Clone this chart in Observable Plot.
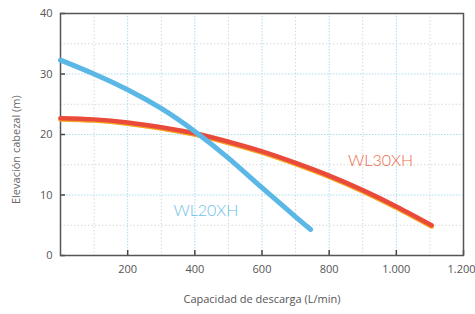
<!DOCTYPE html>
<html><head><meta charset="utf-8">
<script src="https://cdn.jsdelivr.net/npm/d3@7"></script>
<script src="https://cdn.jsdelivr.net/npm/@observablehq/plot@0.6"></script>
<style>body{margin:0;background:#fff;font-family:"Open Sans",sans-serif}</style>
</head><body><div id="chart"></div>
<script>
const wl20X = [0, 100, 200, 300, 400, 500, 600, 700, 745];
const wl20Y = [32.3, 30.0, 27.4, 24.3, 20.5, 16.1, 11.2, 6.4, 4.3];
const wl30X = [0, 100, 200, 300, 400, 500, 600, 700, 800, 900, 1000, 1105];
const wl30Y = [22.7, 22.5, 22.0, 21.2, 20.2, 18.8, 17.2, 15.3, 13.2, 10.8, 8.1, 5.0];
const xTicks = [200, 400, 600, 800, 1000, 1200];
const xTickLabels = ["200", "400", "600", "800", "1.000", "1.200"];
const yTicks = [0, 10, 20, 30, 40];
const xMinor = [100, 300, 500, 700, 900, 1100];
const yMinor = [5, 15, 25, 35];
const seriesNames = ["WL20XH", "WL30XH"];
const seriesColors = ["#5bb8e6", "#ea4a3a"];
const labelColors = ["#6cc0e8", "#ee6a45"];
const labelPos = [[433, 7.4], [953, 15.7]];

const wl20 = wl20X.map((x, i) => ({x, y: wl20Y[i]}));
const wl30 = wl30X.map((x, i) => ({x, y: wl30Y[i]}));
const labels = seriesNames.map((n, i) => ({name: n, x: labelPos[i][0], y: labelPos[i][1], c: labelColors[i]}));
const xLab = xTicks.map((x, i) => ({x, t: xTickLabels[i]}));

const chart = Plot.plot({
  width: 475, height: 314,
  marginLeft: 60, marginRight: 12, marginTop: 13, marginBottom: 59,
  style: {fontFamily: "'Open Sans', sans-serif", fontSize: "11px", color: "#555", background: "#fff"},
  x: {domain: [0, 1200]},
  y: {domain: [0, 40]},
  marks: [
    Plot.ruleX(xMinor, {stroke: "#d8d8d8", strokeDasharray: "1.5,2", strokeWidth: 1}),
    Plot.ruleY(yMinor, {stroke: "#d8d8d8", strokeDasharray: "1.5,2", strokeWidth: 1}),
    Plot.ruleX(xTicks.slice(0, -1), {stroke: "#a9dcf0", strokeDasharray: "1.5,1.5", strokeWidth: 1}),
    Plot.ruleY(yTicks.slice(1, -1), {stroke: "#a9dcf0", strokeDasharray: "1.5,1.5", strokeWidth: 1}),
    Plot.axisX(xTicks, {tickSize: -5, tickFormat: () => "", stroke: "#444", strokeWidth: 1.5, label: "Capacidad de descarga (L/min)", labelAnchor: "center", labelOffset: 47, labelArrow: "none", fontSize: 11, fill: "#555"}),
    Plot.text(xLab.slice(0, -1), {x: "x", text: "t", frameAnchor: "bottom", dy: 17, fill: "#555", fontSize: 11}),
    Plot.text(xLab.slice(-1), {x: "x", text: "t", frameAnchor: "bottom", dy: 17, dx: -2, fill: "#555", fontSize: 11}),
    Plot.axisY(yTicks, {tickSize: -5, tickPadding: 13, stroke: "#444", strokeWidth: 1.5, label: null, fontSize: 11, fill: "#555"}),
    Plot.text(["Elevación cabezal (m)"], {x: 0, y: 17.5, dx: -44, rotate: -90, fill: "#666", fontSize: 11}),
    Plot.frame({stroke: "#555", strokeWidth: 1.5}),
    Plot.line(wl30, {x: "x", y: "y", curve: "natural", stroke: "#f5a623", strokeWidth: 5, dy: 1}),
    Plot.line(wl30, {x: "x", y: "y", curve: "natural", stroke: seriesColors[1], strokeWidth: 4.5, strokeLinecap: "round"}),
    Plot.line(wl20, {x: "x", y: "y", curve: "natural", stroke: seriesColors[0], strokeWidth: 5, strokeLinecap: "round"}),
    Plot.text(labels, {x: "x", y: "y", text: "name", fill: "c", fontSize: 16, fontFamily: "Lato, sans-serif", fontWeight: 300})
  ]
});
document.getElementById("chart").append(chart);
</script></body></html>
